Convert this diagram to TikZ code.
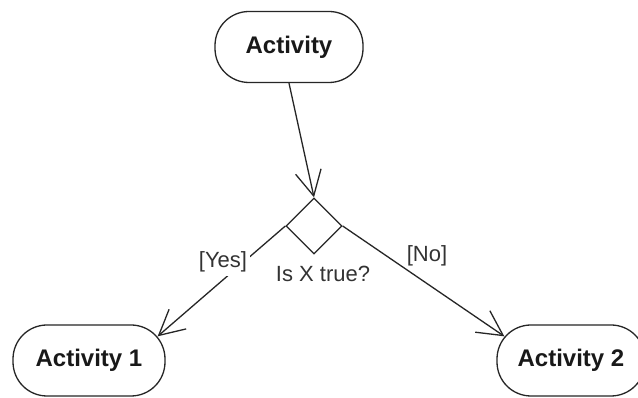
\documentclass[tikz,border=0pt]{standalone}
\usepackage{fontspec}
\setmainfont{Liberation Sans}
\usetikzlibrary{shapes.geometric,arrows.meta}
\begin{document}
\begin{tikzpicture}[x=1pt,y=1pt,
  act/.style={draw=black!85, line width=1.3pt, rounded corners=34pt, minimum height=71pt, inner sep=0pt,
    font=\fontsize{24}{28}\selectfont\bfseries, text=black!90},
  dec/.style={draw=black!85, diamond, aspect=1, minimum width=56pt, minimum height=56pt, inner sep=0pt, line width=1.3pt},
  flow/.style={draw=black!85, line width=1.3pt, -{Straight Barb[length=25pt,width=26pt]}},
  lbl/.style={font=\fontsize{22}{26}\selectfont, text=black!80, inner sep=3pt, anchor=base}]
\useasboundingbox (0,0) rectangle (638,398);
\clip (0,0) rectangle (638,398);
\fill[white] (0,0) rectangle (638,398);
\node[act, minimum width=148pt] (act) at (289,351) {Activity};
\node[dec] (dia) at (314,172) {};
\node[act, minimum width=152pt] (a1) at (89,37.5) {Activity 1};
\node[act, minimum width=148pt] (a2) at (571,37.5) {Activity 2};
\coordinate (a1in) at ([xshift=-8pt,yshift=-12pt]a1.north east);
\coordinate (a2in) at ([xshift=8pt,yshift=-12pt]a2.north west);
\draw[flow] (act.south) -- (dia.north);
\draw[flow] (dia.west) -- (a1in);
\draw[flow] (dia.east) -- (a2in);
\node[lbl, fill=white] (yes) at (223,130) {[Yes]};
\node[lbl] (no) at (427,136) {[No]};
\node[lbl] (cond) at (323,116) {Is X true?};
\end{tikzpicture}
\end{document}
